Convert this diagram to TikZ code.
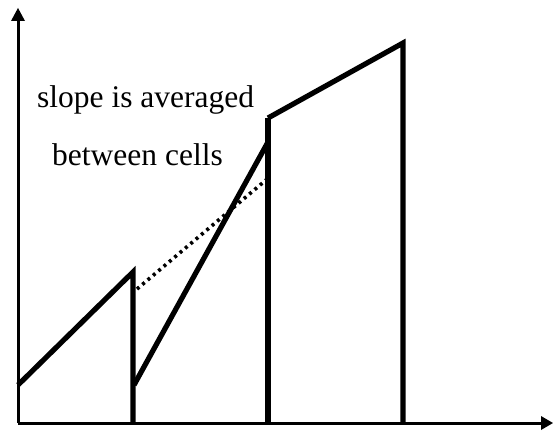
\documentclass[tikz,border=0pt]{standalone}
\usepackage{fontspec}
\setmainfont{Liberation Serif}
\begin{document}
\begin{tikzpicture}[x=1pt,y=-1pt,
  axis/.style={line width=3pt},
  head/.style={fill=black},
  curve/.style={line width=5.2pt,line join=miter,line cap=butt},
  wall/.style={line width=5.2pt},
  avg/.style={line width=3.6pt,line cap=butt,dash pattern=on 3pt off 4pt},
  lbl/.style={font=\fontsize{31.5}{36}\selectfont,anchor=base west,inner sep=0pt}]
\useasboundingbox (0,0) rectangle (553,433);
\coordinate (o) at (18,423);
\coordinate (ytop) at (18,8);
\coordinate (ybase) at (18,21);
\coordinate (xend) at (553,423);
\coordinate (xbase) at (541,423);
\draw[axis] (o) -- (ybase);
\draw[axis] (o) -- (xbase);
\fill[head] (ytop) -- ([xshift=-7pt]ybase) -- ([xshift=7pt]ybase) -- cycle;
\fill[head] (xend) -- ([yshift=-7pt]xbase) -- ([yshift=7pt]xbase) -- cycle;
% cell 1
\coordinate (a0) at (18,385);
\coordinate (a1) at (133,272);
\coordinate (b0) at (133,423);
\draw[curve] (a0) -- (a1) -- (b0);
% cell 2
\coordinate (c0) at (134,385);
\coordinate (c1) at (268,142);
\coordinate (d0) at (268,423);
\coordinate (d1) at (268,118);
\draw[curve] (c0) -- (c1);
\draw[wall] (d0) -- (d1);
% cell 3
\coordinate (e1) at (403,43);
\coordinate (e0) at (403,423);
\draw[curve] (d1) -- (e1) -- (e0);
% averaged slope
\coordinate (f0) at (137,289);
\coordinate (f1) at (266,180);
\draw[avg] (f0) -- (f1);
% labels
\node[lbl] (t1) at (37,107) {slope is averaged};
\node[lbl] (t2) at (52,165) {between cells};
\end{tikzpicture}
\end{document}
